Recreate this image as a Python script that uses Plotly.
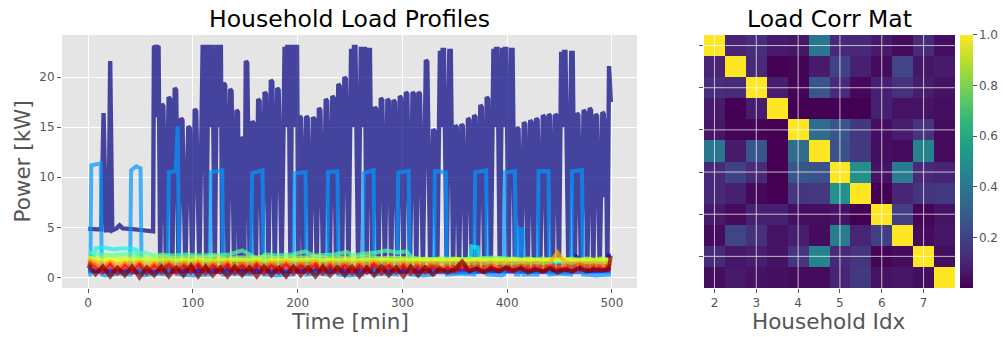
import plotly.graph_objects as go

# ---------------- household load profiles (kW over minutes) ----------------
# shared sample times for the slowly varying low-power households
t_grid = list(range(0, 500, 7)) + [499]

# household with the big heat-pump like cycles: (minute, kW) break points
navy_points = [
    (0, 4.85), (8, 4.85), (12.5, 4.8), (14.7, 16.4), (17, 4.7), (19.5, 4.7), (21, 21.6), (23, 4.7),
    (27, 4.9), (30, 5.2), (33, 4.9), (45, 4.8), (58, 4.6), (62, 4.6),
    (62.8, 23.1), (63.9, 23.0), (65, 16.0), (66.1, 23.0), (67.2, 23.1), (68.8, 0.6),
    (70.4, 17.3), (71.8, 17.1), (74.3, 0.6), (76.8, 18.0), (78.2, 17.8), (80.4, 0.7),
    (82.6, 18.9), (84.0, 18.7), (86.3, 0.6), (88.6, 15.9), (90.0, 15.7), (92.8, 0.7),
    (95.6, 15.1), (97.0, 14.9), (99.4, 0.6), (101.7, 16.8), (103.1, 16.6), (106.2, 0.7),
    (109.3, 23.0), (110.7, 23.0), (112.7, 0.6),
    (114.8, 23.0), (116.2, 23.0), (116.8, 15.0), (117.4, 23.0), (118.7, 23.0), (120.9, 0.7),
    (123.0, 23.0), (124.3, 23.0), (124.9, 15.0), (125.5, 23.0), (126.7, 23.0), (128, 0.6),
    (129.4, 19.4), (130.8, 19.2), (133.2, 0.7), (135.5, 18.8), (136.9, 18.6), (139.3, 0.6),
    (141.6, 16.7), (143.0, 16.5), (144.5, 0.7), (146.1, 14.0), (147.5, 13.8), (149, 0.6),
    (150.5, 21.6), (151.9, 21.4), (154.2, 0.7), (156.5, 15.6), (157.9, 15.4), (160.1, 0.6),
    (162.3, 17.8), (163.7, 17.6), (166, 0.7), (168.4, 18.5), (169.8, 18.3), (172.1, 0.6),
    (174.4, 19.7), (175.8, 19.5), (178.2, 0.7), (180.5, 18.9), (181.9, 18.7), (184.7, 0.6),
    (187.5, 22.8), (188.8, 22.8), (189.5, 15.0), (190.1, 23.0), (191.4, 23.0), (193.1, 0.7),
    (194.8, 23.0), (196.0, 23.0), (197.1, 15.0), (198.1, 23.0), (199.4, 23.0), (200.7, 0.6),
    (201.9, 16.1), (203.3, 15.9), (205.8, 0.7), (208.2, 16.1), (209.6, 15.9), (212.1, 0.6),
    (214.6, 16.0), (216.0, 15.8), (218.2, 0.7), (220.3, 16.9), (221.7, 16.7), (224.3, 0.6),
    (226.8, 17.8), (228.2, 17.6), (230.7, 0.7), (233.1, 18.1), (234.5, 17.9), (236.7, 0.6),
    (238.8, 19.3), (240.2, 19.1), (242.4, 0.7), (244.6, 20.0), (246.0, 19.8), (248.5, 0.6),
    (251.0, 22.6), (252.3, 22.6), (253.1, 15.0), (253.8, 23.0), (255.2, 23.0), (257.8, 0.7),
    (260.3, 22.8), (261.6, 22.8), (262.2, 15.0), (262.8, 22.8), (264.2, 22.8), (265.9, 0.6),
    (267.6, 22.7), (269.0, 22.7), (271.3, 0.7),
    (273.6, 17.0), (275.0, 16.8), (277.2, 0.6), (279.4, 17.9), (280.8, 17.7), (283.3, 0.7),
    (285.7, 17.8), (287.1, 17.6), (289.3, 0.6), (291.5, 17.7), (292.9, 17.5), (295.2, 0.7),
    (297.5, 18.1), (298.9, 17.9), (301.1, 0.6), (303.3, 18.5), (304.7, 18.3), (307.2, 0.7),
    (309.7, 18.5), (311.1, 18.3), (313.3, 0.6), (315.4, 18.5), (316.8, 18.3), (319.6, 0.7),
    (322.4, 21.7), (323.8, 21.5), (326.6, 0.6), (329.4, 14.8), (330.8, 14.6), (333.3, 0.7),
    (335.8, 22.4), (337.1, 22.4), (337.8, 15.0), (338.4, 22.7), (339.7, 22.7), (342.3, 0.6),
    (344.8, 22.6), (346.2, 22.6), (348.4, 0.7),
    (350.5, 15.2), (351.9, 15.0), (354.1, 0.6), (356.3, 15.3), (357.7, 15.1), (360.2, 0.7),
    (362.6, 15.9), (364.0, 15.7), (366.2, 0.6), (368.4, 16.2), (369.8, 16.0), (372.1, 0.7),
    (374.4, 17.2), (375.8, 17.0), (378.2, 0.6), (380.5, 18.0), (381.9, 17.8), (384.4, 0.7),
    (386.9, 22.6), (388.2, 22.6), (388.9, 15.0), (389.5, 22.8), (390.8, 22.8), (393, 0.6),
    (395.2, 22.7), (396.5, 22.7), (397.2, 15.0), (397.8, 22.8), (399.2, 22.8), (401.5, 0.7),
    (403.8, 22.7), (405.2, 22.7), (407.4, 0.6),
    (409.5, 15.0), (410.9, 14.8), (413.4, 0.7), (415.9, 15.5), (417.3, 15.3), (419.7, 0.6),
    (422.0, 15.7), (423.4, 15.5), (425.6, 0.7), (427.7, 15.9), (429.1, 15.7), (431.6, 0.6),
    (434.1, 16.2), (435.5, 16.0), (437.7, 0.7), (439.8, 16.3), (441.2, 16.1), (443.6, 0.6),
    (445.9, 16.3), (447.3, 16.1), (449.5, 0.7),
    (451.6, 22.3), (452.9, 22.3), (453.7, 15.0), (454.4, 22.5), (455.7, 22.5), (458.5, 0.6),
    (461.2, 22.4), (462.6, 22.4), (464.6, 0.7),
    (466.6, 16.4), (468.0, 16.2), (470.5, 0.6), (473.0, 16.7), (474.4, 16.5), (476.6, 0.7),
    (478.7, 16.9), (480.1, 16.7), (482.3, 0.6), (484.5, 16.3), (485.9, 16.1), (488.4, 0.7),
    (490.9, 16.5), (492.3, 16.3), (492.9, 8.0), (494.1, 15.9), (495.7, 0.7), (497.3, 21.1), (499, 17.5),
]
navy_t = [p[0] for p in navy_points]
navy_kw = [p[1] for p in navy_points]

blue_t = [0, 60, 120, 180, 240, 300, 360, 420, 460, 463, 466, 469, 472, 480, 496, 497, 499]
blue_kw = [0.7, 0.6, 0.7, 0.6, 0.7, 0.6, 0.7, 0.6, 0.7, 1.6, 2.1, 1.8, 0.7, 0.6, 0.7, 2.2, 2.2]

blue2_t = [0, 50, 100, 150, 200, 250, 300, 350, 400, 450, 499]
blue2_kw = [0.6, 0.5, 0.6, 0.5, 0.6, 0.5, 0.6, 0.5, 0.6, 0.5, 0.6]

sky_t = [0, 2, 3, 7, 12, 13, 16, 30, 40, 41, 46, 50, 51, 53, 65, 76, 77, 83.5, 85.5, 87,
         100, 116, 117, 128, 129, 140, 155.5, 156.5, 166.5, 167.5, 180, 196, 197, 207.5, 208.5, 220, 228, 229, 238, 239,
         250, 262, 263, 272.5, 273.5, 285, 295, 296, 306, 307, 320, 330, 331, 341.5, 342.5, 355, 368.5, 369.5, 380, 381,
         395, 397, 398, 407.5, 408.5, 411, 412, 415, 416, 429, 430, 439.5, 440.5, 450, 461, 462, 471.5, 472.5, 485, 499]
sky_kw = [0.3, 0.3, 11.2, 11.3, 11.4, 0.3, 0.2, 0.4, 0.3, 10.7, 11.1, 10.9, 0.3, 0.2, 0.4, 0.3, 10.5, 10.6, 15.1, 0.3,
          0.2, 0.3, 10.5, 10.7, 0.3, 0.4, 0.3, 10.4, 10.7, 0.3, 0.2, 0.3, 10.4, 10.5, 0.3, 0.4, 0.3, 10.5, 10.6, 0.3,
          0.2, 0.3, 10.4, 10.7, 0.3, 0.4, 0.3, 10.5, 10.6, 0.3, 0.2, 0.3, 10.6, 10.5, 0.3, 0.4, 0.3, 10.5, 10.7, 0.3,
          0.2, 0.3, 10.5, 10.6, 0.3, 0.3, 4.9, 4.8, 0.3, 0.3, 10.6, 10.6, 0.3, 0.4, 0.3, 10.6, 10.7, 0.3, 0.2, 0.3]

cyan_t = [0, 5, 7, 15, 25, 30, 40, 46, 48, 60, 80, 100, 120, 140, 160, 180, 200, 220, 240, 260,
          280, 300, 320, 340, 360, 365, 366, 372, 373, 380, 400, 420, 440, 460, 480, 499]
cyan_kw = [1.9, 2.0, 2.9, 3.0, 2.8, 2.9, 2.9, 2.8, 1.8, 1.7, 1.6, 1.7, 1.6, 1.8, 1.7, 1.6, 1.7, 1.8, 1.6, 1.7,
           1.8, 1.6, 1.7, 1.6, 1.7, 1.7, 3.1, 3.0, 1.7, 1.6, 1.5, 1.6, 1.5, 1.6, 1.5, 1.4]

green_t = [0, 10, 20, 30, 40, 50, 55, 62, 70, 80, 93, 105, 122, 135, 147, 155, 163, 169, 180, 195,
           207, 215, 225, 235, 247, 253, 265, 275, 285, 295, 304, 309, 320, 340, 360, 387, 410, 444, 470, 499]
green_kw = [2.5, 2.3, 2.2, 2.3, 2.4, 2.4, 2.5, 2.2, 2.3, 2.2, 2.3, 2.2, 2.3, 2.3, 2.7, 2.3, 1.8, 2.3, 2.2, 2.3,
            2.6, 2.2, 2.2, 2.3, 2.55, 2.2, 2.4, 2.5, 2.7, 2.5, 2.6, 2.0, 1.8, 1.9, 1.8, 2.0, 1.8, 1.7, 1.7, 1.6]

lime_kw = [2.0, 1.9, 2.0, 2.1, 2.0, 1.9, 2.0, 2.0, 1.9, 2.0, 2.1, 2.0,
           1.9, 2.0, 2.0, 1.9, 2.0, 2.1, 2.0, 1.9, 2.0, 2.0, 1.9, 2.0,
           2.1, 2.0, 1.9, 2.0, 2.0, 1.9, 2.0, 2.1, 2.0, 1.9, 2.0, 2.0,
           1.9, 2.0, 2.1, 2.0, 1.9, 2.0, 2.0, 1.9, 1.9, 1.8, 1.9, 1.8,
           1.9, 1.8, 1.9, 1.8, 1.9, 1.8, 1.9, 1.8, 1.9, 1.8, 1.9, 1.8,
           1.9, 1.8, 1.9, 1.8, 1.9, 1.8, 1.9, 1.8, 1.9, 1.8, 1.9, 1.8,
           1.8]
yellow_kw = [1.9, 1.8, 1.7, 1.8, 1.7, 1.8, 1.7, 1.7, 1.8, 1.7, 1.8, 1.7,
             1.7, 1.8, 1.7, 1.8, 1.7, 1.7, 1.8, 1.7, 1.8, 1.7, 1.7, 1.8,
             1.7, 1.8, 1.7, 1.7, 1.8, 1.7, 1.8, 1.7, 1.7, 1.8, 1.7, 1.8,
             1.7, 1.7, 1.8, 1.7, 1.8, 1.7, 1.7, 1.8, 1.7, 1.8, 1.7, 1.7,
             1.8, 1.7, 1.8, 1.7, 1.7, 1.8, 1.7, 1.8, 1.7, 1.7, 1.8, 1.7,
             1.8, 1.7, 1.7, 1.8, 1.7, 1.8, 1.7, 1.7, 1.8, 1.7, 1.8, 1.7,
             1.7]
orange_kw = [1.8, 1.5, 1.3, 1.6, 1.3, 1.5, 1.4, 1.6, 1.3, 1.5, 1.4, 1.6,
             1.3, 1.5, 1.4, 1.6, 1.3, 1.5, 1.4, 1.6, 1.3, 1.5, 1.4, 1.6,
             1.3, 1.5, 1.4, 1.6, 1.3, 1.5, 1.4, 1.6, 1.3, 1.5, 1.4, 1.5,
             1.4, 1.5, 1.4, 1.6, 1.4, 1.5, 1.4, 1.5, 1.4, 1.5, 1.4, 1.5,
             1.4, 1.5, 1.4, 1.5, 1.4, 1.5, 1.4, 1.5, 1.4, 1.5, 1.4, 1.5,
             1.4, 1.5, 1.4, 1.5, 2.5, 1.5, 1.4, 1.5, 1.4, 1.5, 1.4, 1.5,
             1.4]
tomato_kw = [1.6, 1.3, 0.9, 1.4, 0.8, 1.3, 0.9, 1.4, 0.8, 1.3, 0.9, 1.4,
             0.8, 1.3, 0.9, 1.4, 0.8, 1.3, 0.9, 1.4, 0.8, 1.3, 0.9, 1.4,
             0.8, 1.3, 0.9, 1.4, 0.8, 1.3, 0.9, 1.4, 0.8, 1.3, 0.9, 1.3,
             0.8, 1.3, 0.9, 1.4, 0.8, 1.2, 0.9, 1.3, 0.9, 1.2, 1.0, 1.2,
             1.0, 1.1, 1.0, 1.2, 1.0, 1.1, 1.0, 1.2, 1.0, 1.1, 1.0, 1.2,
             1.0, 1.1, 1.0, 1.2, 1.1, 1.2, 1.0, 1.3, 1.1, 1.2, 1.1, 1.2,
             1.1]
red_kw = [1.4, 1.0, 0.5, 1.2, 0.4, 1.1, 0.5, 1.2, 0.4, 1.1, 0.5, 1.2,
          0.4, 1.1, 0.5, 1.2, 0.4, 1.1, 0.5, 1.2, 0.4, 1.1, 0.5, 1.2,
          0.4, 1.1, 0.5, 1.2, 0.4, 1.1, 0.5, 1.2, 0.4, 1.1, 0.5, 1.1,
          0.4, 1.1, 0.5, 1.2, 0.4, 1.1, 0.5, 1.1, 0.4, 1.0, 0.5, 1.0,
          0.6, 0.9, 0.6, 1.0, 0.7, 0.9, 0.6, 1.0, 0.7, 0.9, 0.6, 1.0,
          0.7, 0.9, 0.6, 1.0, 0.7, 0.9, 0.6, 1.0, 0.7, 0.9, 0.8, 0.9,
          1.0]
maroon_kw = [1.2, 0.3, 1.1, 0.1, 1.0, 0.2, 1.1, 0.0, 1.0, 0.2, 1.1, 0.1,
             1.0, 0.2, 1.2, 0.1, 1.1, 0.2, 1.0, 0.1, 1.1, 0.2, 1.0, 0.1,
             1.1, 0.2, 1.0, 0.1, 1.1, 0.2, 1.0, 0.1, 1.1, 0.2, 1.0, 0.2,
             1.1, 0.1, 1.0, 0.2, 1.1, 0.2, 1.0, 0.1, 1.1, 0.2, 1.0, 0.3,
             0.9, 0.5, 0.8, 1.6, 0.6, 0.9, 0.5, 0.9, 0.6, 1.0, 0.7, 0.9,
             0.5, 0.8, 0.6, 0.9, 0.5, 0.8, 0.6, 0.9, 0.6, 0.8, 0.7, 0.8,
             2.2]

series = [
    (navy_t, navy_kw), (blue_t, blue_kw), (blue2_t, blue2_kw), (sky_t, sky_kw),
    (cyan_t, cyan_kw), (green_t, green_kw), (t_grid, lime_kw), (t_grid, yellow_kw),
    (t_grid, orange_kw), (t_grid, tomato_kw), (t_grid, red_kw), (t_grid, maroon_kw),
]

# jet colormap sampled at 12 steps, alpha 0.7
jet_colors = ["rgba(0,0,128,0.7)", "rgba(0,0,233,0.7)", "rgba(0,58,255,0.7)", "rgba(0,151,255,0.7)",
              "rgba(11,243,236,0.7)", "rgba(86,255,161,0.7)", "rgba(161,255,86,0.7)", "rgba(236,255,11,0.7)",
              "rgba(255,173,0,0.7)", "rgba(255,87,0,0.7)", "rgba(233,0,0,0.7)", "rgba(128,0,0,0.7)"]

# ---------------- correlation matrix ----------------
corr = [
    [1.00, 0.10, 0.13, 0.07, 0.06, 0.39, 0.11, 0.11, 0.07, 0.03, 0.12, 0.04],
    [0.10, 1.00, 0.12, 0.00, 0.01, 0.07, 0.20, 0.09, 0.03, 0.21, 0.06, 0.07],
    [0.13, 0.12, 1.00, 0.08, 0.01, 0.27, 0.12, 0.02, 0.09, 0.14, 0.08, 0.05],
    [0.07, 0.00, 0.08, 1.00, 0.00, 0.00, 0.00, 0.00, 0.09, 0.05, 0.05, 0.04],
    [0.06, 0.01, 0.01, 0.00, 1.00, 0.35, 0.27, 0.16, 0.04, 0.08, 0.15, 0.03],
    [0.39, 0.07, 0.27, 0.00, 0.35, 1.00, 0.25, 0.17, 0.04, 0.03, 0.45, 0.03],
    [0.11, 0.20, 0.12, 0.00, 0.27, 0.25, 1.00, 0.50, 0.05, 0.42, 0.11, 0.10],
    [0.11, 0.09, 0.02, 0.00, 0.16, 0.17, 0.50, 1.00, 0.00, 0.10, 0.15, 0.17],
    [0.07, 0.03, 0.09, 0.09, 0.04, 0.04, 0.05, 0.00, 1.00, 0.19, 0.01, 0.05],
    [0.03, 0.21, 0.14, 0.05, 0.08, 0.03, 0.42, 0.10, 0.19, 1.00, 0.03, 0.06],
    [0.12, 0.06, 0.08, 0.05, 0.15, 0.45, 0.11, 0.15, 0.01, 0.03, 1.00, 0.04],
    [0.04, 0.07, 0.05, 0.04, 0.03, 0.03, 0.10, 0.17, 0.05, 0.06, 0.04, 1.00],
]
idx_x = [2.0, 2.5, 3.0, 3.5, 4.0, 4.5, 5.0, 5.5, 6.0, 6.5, 7.0, 7.5]
idx_y = [0, 1, 2, 3, 4, 5, 6, 7, 8, 9, 10, 11]
idx_ticks = [2, 3, 4, 5, 6, 7]
row_ticks = [0, 2, 4, 6, 8, 10]
cbar_ticks = [0.2, 0.4, 0.6, 0.8, 1.0]

FONT = "DejaVu Sans"
GREY = "#555555"

fig = go.Figure()
for i, ((tt, kw), col) in enumerate(zip(series, jet_colors)):
    fig.add_trace(go.Scatter(x=tt, y=kw, mode="lines",
                             line=dict(color=col, width=4.4 if i == 0 else 4),
                             showlegend=False, hoverinfo="skip", xaxis="x", yaxis="y"))

fig.add_trace(go.Heatmap(
    z=corr, x=idx_x, y=idx_y, colorscale="Viridis", zmin=0.0, zmax=1.0,
    xaxis="x2", yaxis="y2", hoverinfo="skip",
    colorbar=dict(x=0.957, xanchor="left", xpad=0, ypad=0, y=0.5208, yanchor="middle", len=0.751,
                  thickness=13, outlinewidth=0, tickvals=cbar_ticks,
                  ticktext=["%.1f" % v for v in cbar_ticks], ticks="outside", ticklen=4,
                  tickcolor=GREY, tickfont=dict(family=FONT, size=12, color=GREY)),
))

# white grid drawn over the image, like matplotlib does
shapes = []
for v in idx_ticks:
    shapes.append(dict(type="line", xref="x2", yref="y2", x0=v, x1=v, y0=-0.5, y1=11.5,
                       line=dict(color="rgba(255,255,255,0.7)", width=1), layer="above"))
for v in row_ticks:
    shapes.append(dict(type="line", xref="x2", yref="y2", x0=1.75, x1=7.75, y0=v, y1=v,
                       line=dict(color="rgba(255,255,255,0.7)", width=1), layer="above"))

tick_style = dict(ticks="outside", ticklen=4, tickcolor=GREY, tickwidth=1,
                  tickfont=dict(family=FONT, size=12, color=GREY), zeroline=False, showline=False)

annotations = [
    dict(text="Household Load Profiles", x=0.3485, y=0.944, font=dict(size=23.5, color="black")),
    dict(text="Load Corr Mat", x=0.827, y=0.944, font=dict(size=23.5, color="black")),
    dict(text="Time [min]", x=0.3485, y=0.045, font=dict(size=21.5, color=GREY)),
    dict(text="Household Idx", x=0.827, y=0.045, font=dict(size=21.5, color=GREY)),
    dict(text="Power [kW]", x=0.022, y=0.5208, textangle=-90, font=dict(size=21.5, color=GREY)),
]
for a in annotations:
    a.update(xref="paper", yref="paper", showarrow=False, xanchor="center", yanchor="middle")
    a["font"]["family"] = FONT

fig.update_layout(
    width=1003, height=337, margin=dict(l=0, r=0, t=0, b=0, autoexpand=False),
    paper_bgcolor="white", plot_bgcolor="#E5E5E5",
    font=dict(family=FONT, color=GREY),
    xaxis=dict(domain=[0.0618, 0.6351], range=[-25, 524], tickvals=[0, 100, 200, 300, 400, 500],
               showgrid=True, gridcolor="white", gridwidth=1, anchor="y", **tick_style),
    yaxis=dict(domain=[0.1454, 0.8961], range=[-1.05, 24.2], tickvals=[0, 5, 10, 15, 20],
               showgrid=True, gridcolor="white", gridwidth=1, anchor="x", **tick_style),
    xaxis2=dict(domain=[0.7019, 0.9521], range=[1.75, 7.75], tickvals=idx_ticks,
                showgrid=False, anchor="y2", **tick_style),
    yaxis2=dict(domain=[0.1454, 0.8961], range=[11.5, -0.5], tickvals=row_ticks,
                showticklabels=False, showgrid=False, anchor="x2", **tick_style),
    shapes=shapes, annotations=annotations,
)

# the page body has a default 8px margin; drop it so the figure fills the window
fig.write_html("out.html", config={"displayModeBar": False},
               post_script="document.body.style.margin='0';")
